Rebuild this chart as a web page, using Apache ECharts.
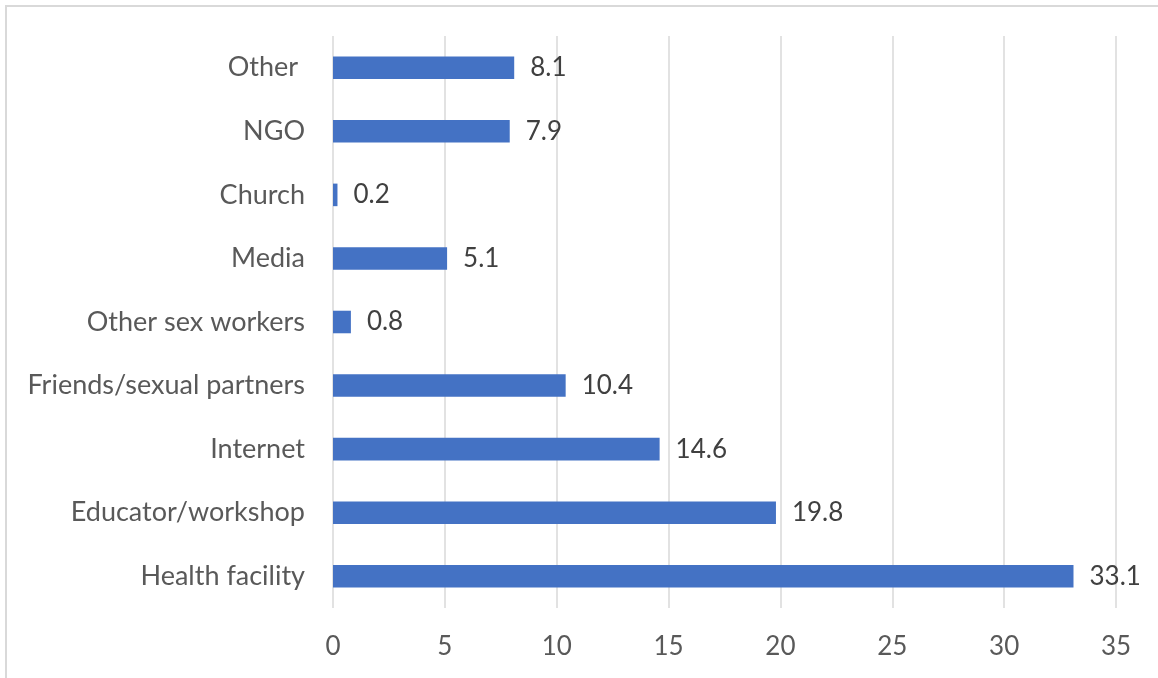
<!DOCTYPE html>
<html>
<head>
<meta charset="utf-8">
<script src="https://cdn.jsdelivr.net/npm/echarts@6/dist/echarts.min.js"></script>
<style>
  html, body { margin: 0; padding: 0; background: #ffffff; }
  #frame { position: absolute; left: 5px; top: 5px; width: 1200px; height: 720px;
           border: 2px solid #d9d9d9; box-sizing: border-box; }
  #chart { position: absolute; left: 0; top: 0; width: 1158px; height: 678px; }
</style>
</head>
<body>
<div id="frame"></div>
<div id="chart"></div>
<script>
// Sources of information, percent of respondents (bottom to top)
const categories = [
  'Health facility',
  'Educator/workshop',
  'Internet',
  'Friends/sexual partners',
  'Other sex workers',
  'Media',
  'Church',
  'NGO',
  'Other '
];
const percentages = [33.1, 19.8, 14.6, 10.4, 0.8, 5.1, 0.2, 7.9, 8.1];
const axisMin = 0;
const axisMax = 35;
const axisStep = 5;

const FONT = 'Lato';
const chart = echarts.init(document.getElementById('chart'), null, { renderer: 'canvas' });

chart.setOption({
  animation: false,
  grid: { left: 333, right: 42, top: 36, bottom: 70, containLabel: false },
  xAxis: {
    type: 'value',
    min: axisMin,
    max: axisMax,
    interval: axisStep,
    axisLine: { show: false },
    axisTick: { show: false },
    splitLine: { show: true, lineStyle: { color: '#d9d9d9', width: 1.5 } },
    axisLabel: { color: '#595959', fontFamily: FONT, fontSize: 26, margin: 26 }
  },
  yAxis: {
    type: 'category',
    data: categories,
    axisLine: { show: false },
    axisTick: { show: false },
    splitLine: { show: false },
    axisLabel: { color: '#595959', fontFamily: FONT, fontSize: 27, margin: 28 }
  },
  series: [{
    type: 'bar',
    data: percentages,
    barWidth: '35.5%',
    itemStyle: { color: '#4472c4' },
    label: {
      show: true,
      position: 'right',
      distance: 16,
      color: '#404040',
      fontFamily: FONT,
      fontSize: 26
    }
  }]
});
</script>
</body>
</html>
